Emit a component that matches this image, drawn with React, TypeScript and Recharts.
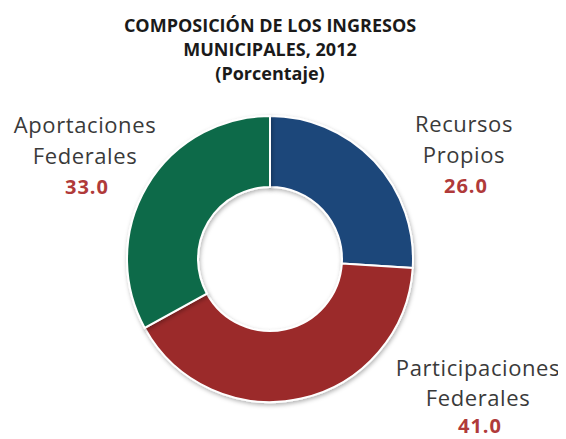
import React from "react";
import { PieChart, Pie, Cell } from "recharts";

const categories = ["Recursos Propios", "Participaciones Federales", "Aportaciones Federales"];
const labelLines = [["Recursos", "Propios"], ["Participaciones", "Federales"], ["Aportaciones", "Federales"]];
const values = [26.0, 41.0, 33.0];
const colors = ["#1f477a", "#9b2a2a", "#116b49"];
const titleLines = ["COMPOSICIÓN DE LOS INGRESOS", "MUNICIPALES, 2012", "(Porcentaje)"];

const data = categories.map((c, i) => ({ name: c, value: values[i] }));

// label anchor offsets relative to pie center (layout only)
const labelOffsets = [
  { dx: 194, dy: -127, gap: 31, numGap: 30 },
  { dx: 208, dy: 117, gap: 30, numGap: 27 },
  { dx: -185, dy: -126, gap: 31, numGap: 30 },
];

const W = 566;
const H = 439;
const CX = 262;
const CY = 251;

const renderLabel = (props: any) => {
  const { cx, cy, index, value } = props;
  const off = labelOffsets[index];
  const x = cx + off.dx;
  const y0 = cy + off.dy;
  const lines = labelLines[index];
  return (
    <g key={`lbl-${index}`}>
      {lines.map((t, k) => (
        <text
          key={k}
          x={x}
          y={y0 + k * off.gap}
          textAnchor="middle"
          fontFamily="'Open Sans', sans-serif"
          fontSize={22}
          letterSpacing={0.6}
          fill="#3a3a3a"
        >
          {t}
        </text>
      ))}
      <text
        x={x + 2}
        y={y0 + off.gap + off.numGap}
        textAnchor="middle"
        fontFamily="'Open Sans', sans-serif"
        fontWeight={700}
        fontSize={20}
        letterSpacing={1}
        fill="#b03a3a"
      >
        {Number(value).toFixed(1)}
      </text>
    </g>
  );
};

export default function App() {
  return (
    <div style={{ position: "relative", width: W, height: H }}>
      <PieChart width={W} height={H} margin={{ top: 0, right: 0, bottom: 0, left: 0 }}>
        <defs>
          <filter id="ringShadow" x="-20%" y="-20%" width="140%" height="140%">
            <feDropShadow dx="1" dy="2" stdDeviation="2" floodColor="#000" floodOpacity="0.3" />
          </filter>
        </defs>
        <Pie
          data={data}
          dataKey="value"
          nameKey="name"
          cx={CX}
          cy={CY}
          innerRadius={72}
          outerRadius={143}
          startAngle={90}
          endAngle={-270}
          stroke="#ffffff"
          strokeWidth={2}
          label={renderLabel}
          labelLine={false}
          isAnimationActive={false}
        >
          {data.map((d, i) => (
            <Cell key={d.name} fill={colors[i]} filter="url(#ringShadow)" />
          ))}
        </Pie>
      </PieChart>
      <svg
        width={W}
        height={100}
        style={{ position: "absolute", left: 0, top: 0, pointerEvents: "none" }}
      >
        {titleLines.map((t, i) => (
          <text
            key={i}
            x={CX}
            y={24 + i * 24}
            textAnchor="middle"
            fontFamily="'Open Sans', sans-serif"
            fontWeight={700}
            fontSize={18}
            fill="#1a1a1a"
          >
            {t}
          </text>
        ))}
      </svg>
    </div>
  );
}
